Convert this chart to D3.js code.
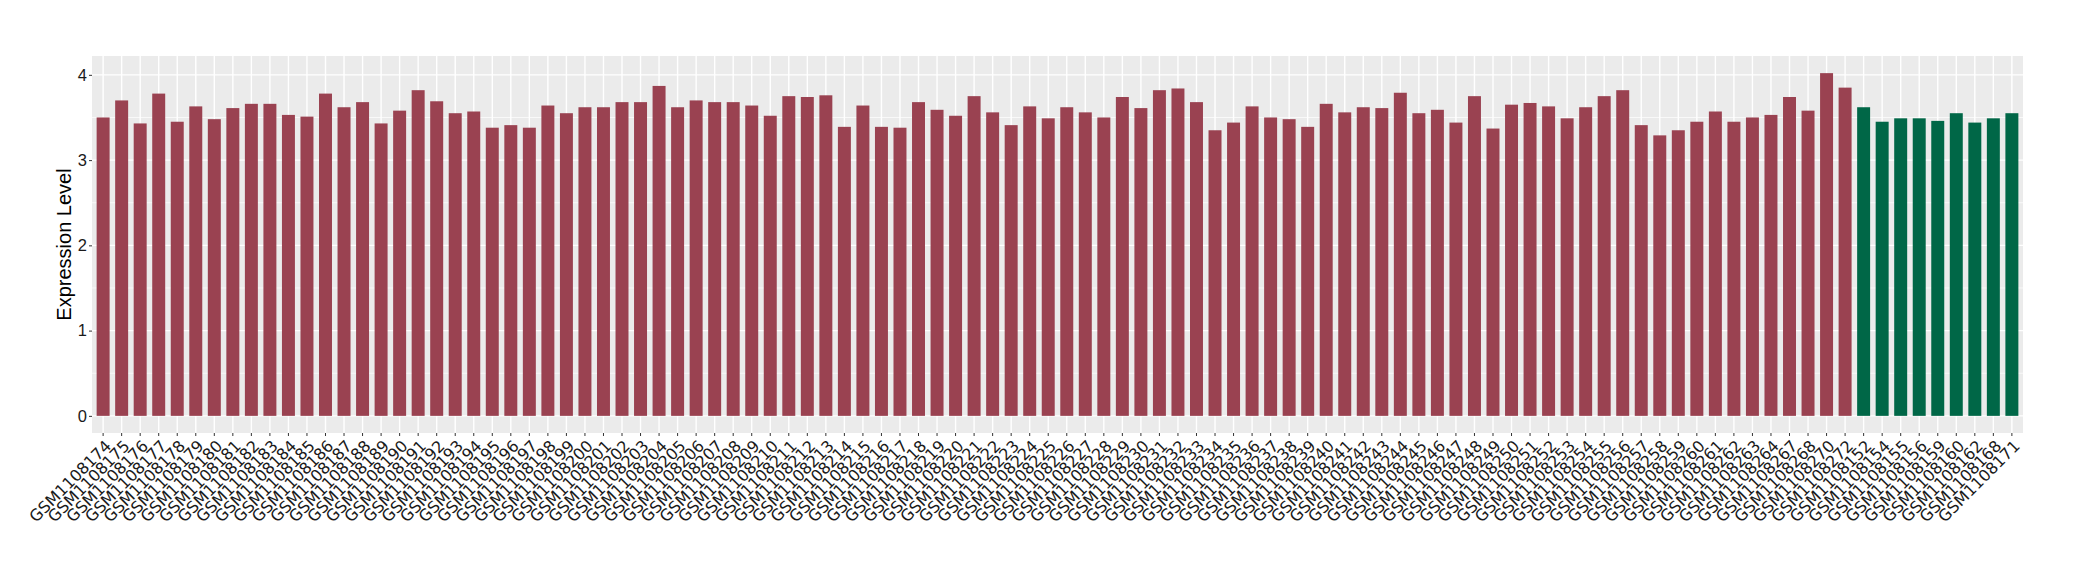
<!DOCTYPE html>
<html lang="en">
    <head>
        <meta charset="utf-8">
        <title>Expression Level</title>
        <script src="https://cdn.jsdelivr.net/npm/d3@7"></script>
        <style>
            body { margin: 0; background: #fff; }
            text { font-family: "Liberation Sans", Arial, sans-serif; }
        </style>
    </head>
    <body>
    <script>

    // sample ids, in plotting order
    var redSamples = [];
    for (var k = 1108174; k <= 1108264; k++) { redSamples.push("GSM" + k); }
    redSamples = redSamples.concat(["GSM1108267", "GSM1108268", "GSM1108270", "GSM1108272"]);

    var greenSamples = ["GSM1108152", "GSM1108154", "GSM1108155", "GSM1108156", "GSM1108159",
                        "GSM1108160", "GSM1108162", "GSM1108168", "GSM1108171"];

    var redValues = [
        3.50, 3.70, 3.43, 3.78, 3.45, 3.63, 3.48, 3.61, 3.66, 3.66,
        3.53, 3.51, 3.78, 3.62, 3.68, 3.43, 3.58, 3.82, 3.69, 3.55,
        3.57, 3.38, 3.41, 3.38, 3.64, 3.55, 3.62, 3.62, 3.68, 3.68,
        3.87, 3.62, 3.70, 3.68, 3.68, 3.64, 3.52, 3.75, 3.74, 3.76,
        3.39, 3.64, 3.39, 3.38, 3.68, 3.59, 3.52, 3.75, 3.56, 3.41,
        3.63, 3.49, 3.62, 3.56, 3.50, 3.74, 3.61, 3.82, 3.84, 3.68,
        3.35, 3.44, 3.63, 3.50, 3.48, 3.39, 3.66, 3.56, 3.62, 3.61,
        3.79, 3.55, 3.59, 3.44, 3.75, 3.37, 3.65, 3.67, 3.63, 3.49,
        3.62, 3.75, 3.82, 3.41, 3.29, 3.35, 3.45, 3.57, 3.45, 3.50,
        3.53, 3.74, 3.58, 4.02, 3.85
    ];

    var greenValues = [3.62, 3.45, 3.49, 3.49, 3.46, 3.55, 3.44, 3.49, 3.55];

    var yTicks = [0, 1, 2, 3, 4];
    var yMinorTicks = [0.5, 1.5, 2.5, 3.5];

    var redColor = "#9A4251",
        greenColor = "#006747";

    var data = redSamples.map(function(s, i) { return {id: s, value: redValues[i], color: redColor}; })
        .concat(greenSamples.map(function(s, i) { return {id: s, value: greenValues[i], color: greenColor}; }));

    var width = 2080, height = 580;
    var panel = {left: 92, right: 2023, top: 56, bottom: 433};

    var svg = d3.select("body").append("svg")
        .attr("width", width)
        .attr("height", height);

    var maxVal = d3.max(data, function(d) { return d.value; });

    var xScale = d3.scaleBand()
        .domain(data.map(function(d) { return d.id; }))
        .range([panel.left, panel.right])
        .paddingInner(0.3)
        .paddingOuter(0.25);

    var yScale = d3.scaleLinear()
        .domain([-0.05 * maxVal, maxVal * 1.05])
        .range([panel.bottom, panel.top]);

    // panel background + grid
    svg.append("rect")
        .attr("x", panel.left)
        .attr("y", panel.top)
        .attr("width", panel.right - panel.left)
        .attr("height", panel.bottom - panel.top)
        .attr("fill", "#EBEBEB");

    svg.append("g").selectAll("line")
        .data(yMinorTicks)
        .enter().append("line")
        .attr("x1", panel.left).attr("x2", panel.right)
        .attr("y1", function(d) { return yScale(d); })
        .attr("y2", function(d) { return yScale(d); })
        .attr("stroke", "#fff")
        .attr("stroke-width", 0.7);

    svg.append("g").selectAll("line")
        .data(yTicks)
        .enter().append("line")
        .attr("x1", panel.left).attr("x2", panel.right)
        .attr("y1", function(d) { return yScale(d); })
        .attr("y2", function(d) { return yScale(d); })
        .attr("stroke", "#fff")
        .attr("stroke-width", 1.4);

    svg.append("g").selectAll("line")
        .data(data)
        .enter().append("line")
        .attr("x1", function(d) { return xScale(d.id) + xScale.bandwidth() / 2; })
        .attr("x2", function(d) { return xScale(d.id) + xScale.bandwidth() / 2; })
        .attr("y1", panel.top).attr("y2", panel.bottom)
        .attr("stroke", "#fff")
        .attr("stroke-width", 1.4);

    // bars
    svg.append("g").selectAll("rect")
        .data(data)
        .enter().append("rect")
        .attr("x", function(d) { return xScale(d.id); })
        .attr("width", xScale.bandwidth())
        .attr("y", function(d) { return yScale(d.value); })
        .attr("height", function(d) { return yScale(0) - yScale(d.value); })
        .attr("fill", function(d) { return d.color; });

    // axes
    var yAxis = d3.axisLeft(yScale)
        .tickValues(yTicks)
        .tickFormat(d3.format("d"))
        .tickSize(3)
        .tickPadding(2);

    var gy = svg.append("g")
        .attr("transform", "translate(" + panel.left + ",0)")
        .call(yAxis);
    gy.select(".domain").remove();
    gy.selectAll(".tick line").attr("stroke", "#333");
    gy.selectAll(".tick text")
        .attr("fill", "#1a1a1a")
        .style("font-size", "16.5px")
        .style("font-family", "Liberation Sans, Arial, sans-serif");

    var xAxis = d3.axisBottom(xScale)
        .tickSize(3)
        .tickPadding(0);

    var gx = svg.append("g")
        .attr("transform", "translate(0," + panel.bottom + ")")
        .call(xAxis);
    gx.select(".domain").remove();
    gx.selectAll(".tick line").attr("stroke", "#333");
    gx.selectAll(".tick text")
        .attr("fill", "#1a1a1a")
        .style("font-size", "16px")
        .style("font-family", "DejaVu Sans, sans-serif")
        .attr("text-anchor", "end")
        .attr("y", 0)
        .attr("dy", "0.71em")
        .attr("transform", "translate(1,6) rotate(-45)");

    svg.append("text")
        .attr("transform", "translate(64," + ((panel.top + panel.bottom) / 2) + ") rotate(-90)")
        .attr("text-anchor", "middle")
        .attr("dy", "0.35em")
        .style("font-size", "20px")
        .attr("fill", "#000")
        .text("Expression Level");

    </script>
    </body>
</html>
